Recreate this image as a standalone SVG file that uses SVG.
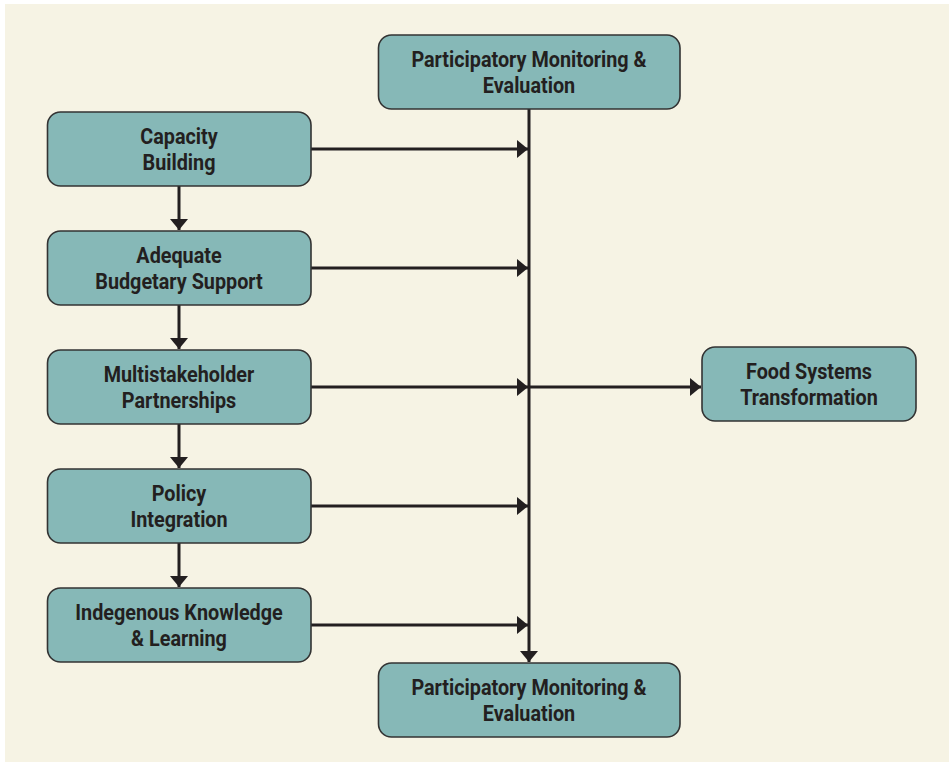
<svg xmlns="http://www.w3.org/2000/svg" width="949" height="762" viewBox="0 0 949 762">
<style>
.box{fill:#86b8b7;stroke:#333;stroke-width:1.6}
.t{font-family:Roboto,"Liberation Sans",sans-serif;font-weight:bold;font-size:22px;fill:#231f20;text-anchor:middle}
.c{stroke:#231f20;stroke-width:3;fill:none}
</style>
<defs>
<marker id="ah" markerUnits="userSpaceOnUse" markerWidth="12" markerHeight="20" refX="11" refY="9" orient="auto" viewBox="0 0 12 18">
<path d="M0,0 L11,9 L0,18 Z" fill="#231f20"/>
</marker>
</defs>
<rect x="0" y="0" width="949" height="762" fill="#ffffff"/>
<rect x="5" y="4" width="944" height="758" fill="#f6f3e4"/>
<g id="connectors">
<line class="c" x1="529" y1="109" x2="529" y2="662" marker-end="url(#ah)"/>
<line class="c" x1="311" y1="149" x2="528" y2="149" marker-end="url(#ah)"/>
<line class="c" x1="311" y1="268" x2="528" y2="268" marker-end="url(#ah)"/>
<line class="c" x1="311" y1="387" x2="528" y2="387" marker-end="url(#ah)"/>
<line class="c" x1="311" y1="506" x2="528" y2="506" marker-end="url(#ah)"/>
<line class="c" x1="311" y1="625" x2="528" y2="625" marker-end="url(#ah)"/>
<line class="c" x1="529" y1="387" x2="701" y2="387" marker-end="url(#ah)"/>
<line class="c" x1="179" y1="186" x2="179" y2="230" marker-end="url(#ah)"/>
<line class="c" x1="179" y1="305" x2="179" y2="349" marker-end="url(#ah)"/>
<line class="c" x1="179" y1="424" x2="179" y2="468" marker-end="url(#ah)"/>
<line class="c" x1="179" y1="543" x2="179" y2="587" marker-end="url(#ah)"/>
</g>
<g id="pme-top">
<rect class="box" x="378.5" y="35" width="301.5" height="74" rx="13"/>
<text class="t" transform="translate(529 67) scale(0.9 1)">Participatory Monitoring &amp;</text>
<text class="t" transform="translate(529 93) scale(0.9 1)">Evaluation</text>
</g>
<g id="capacity">
<rect class="box" x="47.5" y="112" width="263.5" height="74" rx="13"/>
<text class="t" transform="translate(179 144) scale(0.9 1)">Capacity</text>
<text class="t" transform="translate(179 170) scale(0.9 1)">Building</text>
</g>
<g id="budget">
<rect class="box" x="47.5" y="231" width="263.5" height="74" rx="13"/>
<text class="t" transform="translate(179 263) scale(0.9 1)">Adequate</text>
<text class="t" transform="translate(179 289) scale(0.9 1)">Budgetary Support</text>
</g>
<g id="multi">
<rect class="box" x="47.5" y="350" width="263.5" height="74" rx="13"/>
<text class="t" transform="translate(179 382) scale(0.9 1)">Multistakeholder</text>
<text class="t" transform="translate(179 408) scale(0.9 1)">Partnerships</text>
</g>
<g id="policy">
<rect class="box" x="47.5" y="469" width="263.5" height="74" rx="13"/>
<text class="t" transform="translate(179 501) scale(0.9 1)">Policy</text>
<text class="t" transform="translate(179 527) scale(0.9 1)">Integration</text>
</g>
<g id="indigenous">
<rect class="box" x="47.5" y="588" width="263.5" height="74" rx="13"/>
<text class="t" transform="translate(179 620) scale(0.9 1)">Indegenous Knowledge</text>
<text class="t" transform="translate(179 646) scale(0.9 1)">&amp; Learning</text>
</g>
<g id="food">
<rect class="box" x="702" y="347" width="214" height="74" rx="13"/>
<text class="t" transform="translate(809 379) scale(0.9 1)">Food Systems</text>
<text class="t" transform="translate(809 405) scale(0.9 1)">Transformation</text>
</g>
<g id="pme-bottom">
<rect class="box" x="378.5" y="663" width="301.5" height="74" rx="13"/>
<text class="t" transform="translate(529 695) scale(0.9 1)">Participatory Monitoring &amp;</text>
<text class="t" transform="translate(529 721) scale(0.9 1)">Evaluation</text>
</g>
</svg>
